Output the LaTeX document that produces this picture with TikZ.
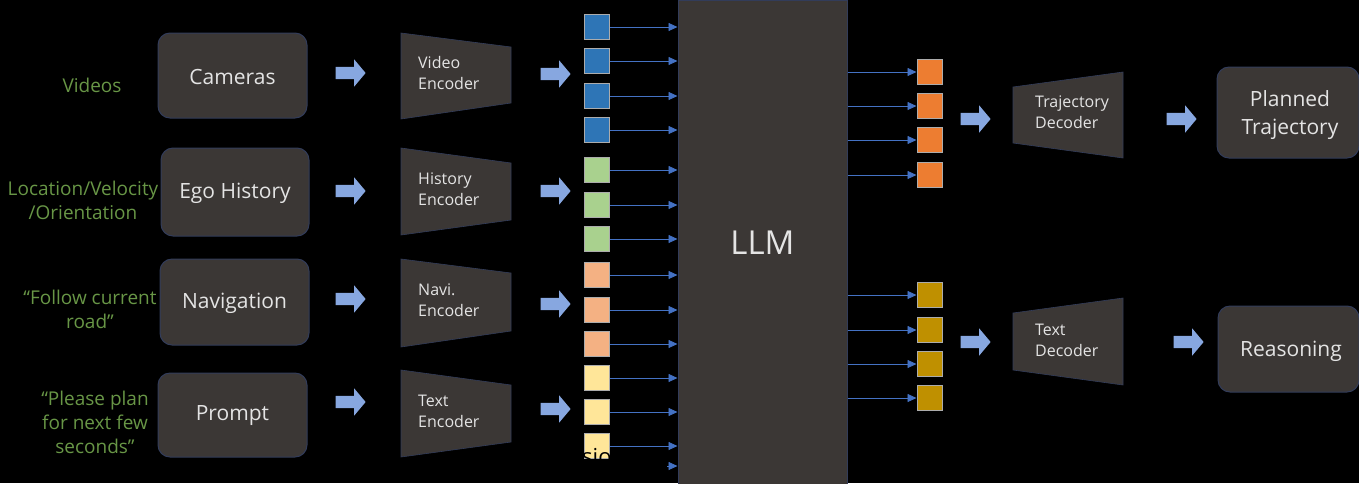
\documentclass[tikz,border=0pt]{standalone}
\usepackage{fontspec}
\setmainfont{Open Sans}
\usetikzlibrary{arrows.meta,shapes.arrows}
\definecolor{boxfill}{RGB}{59,55,53}
\definecolor{boxline}{RGB}{50,60,90}
\definecolor{txt}{RGB}{228,228,228}
\definecolor{lab}{RGB}{104,150,70}
\definecolor{barrowc}{RGB}{135,167,224}
\definecolor{connc}{RGB}{68,114,196}
\definecolor{tblue}{RGB}{46,117,182}
\definecolor{tgreen}{RGB}{169,209,142}
\definecolor{tsalmon}{RGB}{244,177,131}
\definecolor{tyellow}{RGB}{255,230,153}
\definecolor{torange}{RGB}{237,125,49}
\definecolor{tgold}{RGB}{191,144,0}
\tikzset{
  box/.style={draw=boxline, line width=1pt, fill=boxfill, rounded corners=12pt, text=txt, font=\fontsize{21}{28}\selectfont, align=center, inner sep=0pt},
  lbl/.style={text=lab, font=\fontsize{19}{24}\selectfont, align=center, inner sep=0pt},
  trap/.style={fill=boxfill, draw=boxline, line width=0.6pt},
  enctxt/.style={text=txt, font=\fontsize{16}{21}\selectfont, align=left, anchor=west, inner sep=0pt},
  barrow/.style={single arrow, fill=barrowc, draw=none, minimum height=30pt, minimum width=27pt, single arrow tip angle=100, single arrow head extend=7.5pt, inner sep=6pt},
  tok/.style={draw=gray!65, line width=1pt, minimum size=25pt, inner sep=0pt},
  conn/.style={draw=connc, line width=0.8pt, -{Triangle[length=9pt,width=8pt]}},
}
\begin{document}
\begin{tikzpicture}[x=1pt,y=-1pt]
\clip (0,0) rectangle (1359,483);
\fill[black] (0,0) rectangle (1359,483);

% left labels
\node[lbl] (l1) at (92,85) {Videos};
\node[lbl] (l2) at (83,200) {Location/Velocity\\/Orientation};
\node[lbl] (l3) at (90,309) {“Follow current\\road”};
\node[lbl] (l4) at (95,422) {“Please plan\\for next few\\seconds”};

% input boxes
\node[box, minimum width=149pt, minimum height=85pt] (cam) at (232.5,75.5) {};
\node[text=txt, font=\fontsize{21}{28}\selectfont, inner sep=0pt] (camt) at (232.5,77) {Cameras};
\node[box, minimum width=148pt, minimum height=88pt] (ego) at (235,192) {};
\node[text=txt, font=\fontsize{21}{28}\selectfont, inner sep=0pt] (egot) at (235,193.5) {Ego History};
\node[box, minimum width=149pt, minimum height=86pt] (nav) at (234.5,302) {};
\node[text=txt, font=\fontsize{21}{28}\selectfont, inner sep=0pt] (navt) at (234.5,303) {Navigation};
\node[box, minimum width=149pt, minimum height=84pt] (prm) at (232.5,415) {};
\node[text=txt, font=\fontsize{21}{28}\selectfont, inner sep=0pt] (prmt) at (232.5,416) {Prompt};

% block arrows column 1
\node[barrow] (a1) at (348,73) {};
\node[barrow] (a2) at (348,191) {};
\node[barrow] (a3) at (348,299) {};
\node[barrow] (a4) at (348,402) {};

% encoders
\draw[trap] (401,33) -- (511,47) -- (511,103) -- (401,119) -- cycle;
\node[enctxt] (venc) at (418,73) {Video\\Encoder};
\draw[trap] (401,148) -- (511,163) -- (511,220) -- (401,235) -- cycle;
\node[enctxt] (henc) at (418,189) {History\\Encoder};
\draw[trap] (401,259) -- (511,273) -- (511,331) -- (401,347) -- cycle;
\node[enctxt] (nenc) at (418,300) {Navi.\\Encoder};
\draw[trap] (401,370) -- (511,385) -- (511,442) -- (401,457) -- cycle;
\node[enctxt] (tenc) at (418,411.5) {Text\\Encoder};

% block arrows column 2
\node[barrow] (b1) at (553,74) {};
\node[barrow] (b2) at (553,191) {};
\node[barrow] (b3) at (553,304) {};
\node[barrow] (b4) at (553,409) {};

% LLM
\node[draw=boxline, line width=1pt, fill=boxfill, minimum width=169pt, minimum height=490pt, inner sep=0pt] (llm) at (762.5,245) {};
\node[text=txt, font=\fontsize{33}{36}\selectfont, inner sep=0pt] (llmt) at (762.5,243) {LLM};

% input tokens
\foreach \y/\c [count=\i] in {27/tblue,61/tblue,96/tblue,130/tblue,170/tgreen,205/tgreen,239/tgreen,275/tsalmon,310/tsalmon,344/tsalmon,378/tyellow,412/tyellow,446/tyellow}{
  \node[tok, fill=\c] (in\i) at (597,\y) {};
  \draw[conn] (in\i.east) -- (llm.west |- in\i.east);
}
\node[text=black, font=\fontsize{22}{22}\selectfont, anchor=base west, inner sep=0pt] (sio) at (582,464) {sio};
\coordinate (lastc) at (667,466);
\draw[conn] (lastc) -- (llm.west |- lastc);

% output tokens
\foreach \y/\c [count=\i] in {72/torange,106/torange,140/torange,175/torange,295/tgold,330/tgold,364/tgold,398/tgold}{
  \node[tok, fill=\c] (out\i) at (929.5,\y) {};
  \draw[conn] (llm.east |- out\i.west) -- (out\i.west);
}

% block arrows output
\node[barrow] (c1) at (973,119) {};
\node[barrow] (c2) at (973,342) {};

% decoders
\draw[trap] (1013,87) -- (1123,72) -- (1123,158) -- (1013,143) -- cycle;
\node[enctxt] (tdec) at (1035,112.5) {Trajectory\\Decoder};
\draw[trap] (1013,313) -- (1123,298) -- (1123,385) -- (1013,370) -- cycle;
\node[enctxt] (xdec) at (1035,340) {Text\\Decoder};

\node[barrow] (d1) at (1179,119) {};
\node[barrow] (d2) at (1186,342) {};

% outputs
\node[box, minimum width=142pt, minimum height=91pt] (plan) at (1288,112.5) {};
\node[text=txt, font=\fontsize{21}{28}\selectfont, align=center, inner sep=0pt] (plant) at (1290,115) {Planned\\Trajectory};
\node[box, minimum width=141pt, minimum height=86pt] (reas) at (1288.5,349) {};
\node[text=txt, font=\fontsize{21}{28}\selectfont, inner sep=0pt] (reast) at (1291,351) {Reasoning};
\end{tikzpicture}
\end{document}
